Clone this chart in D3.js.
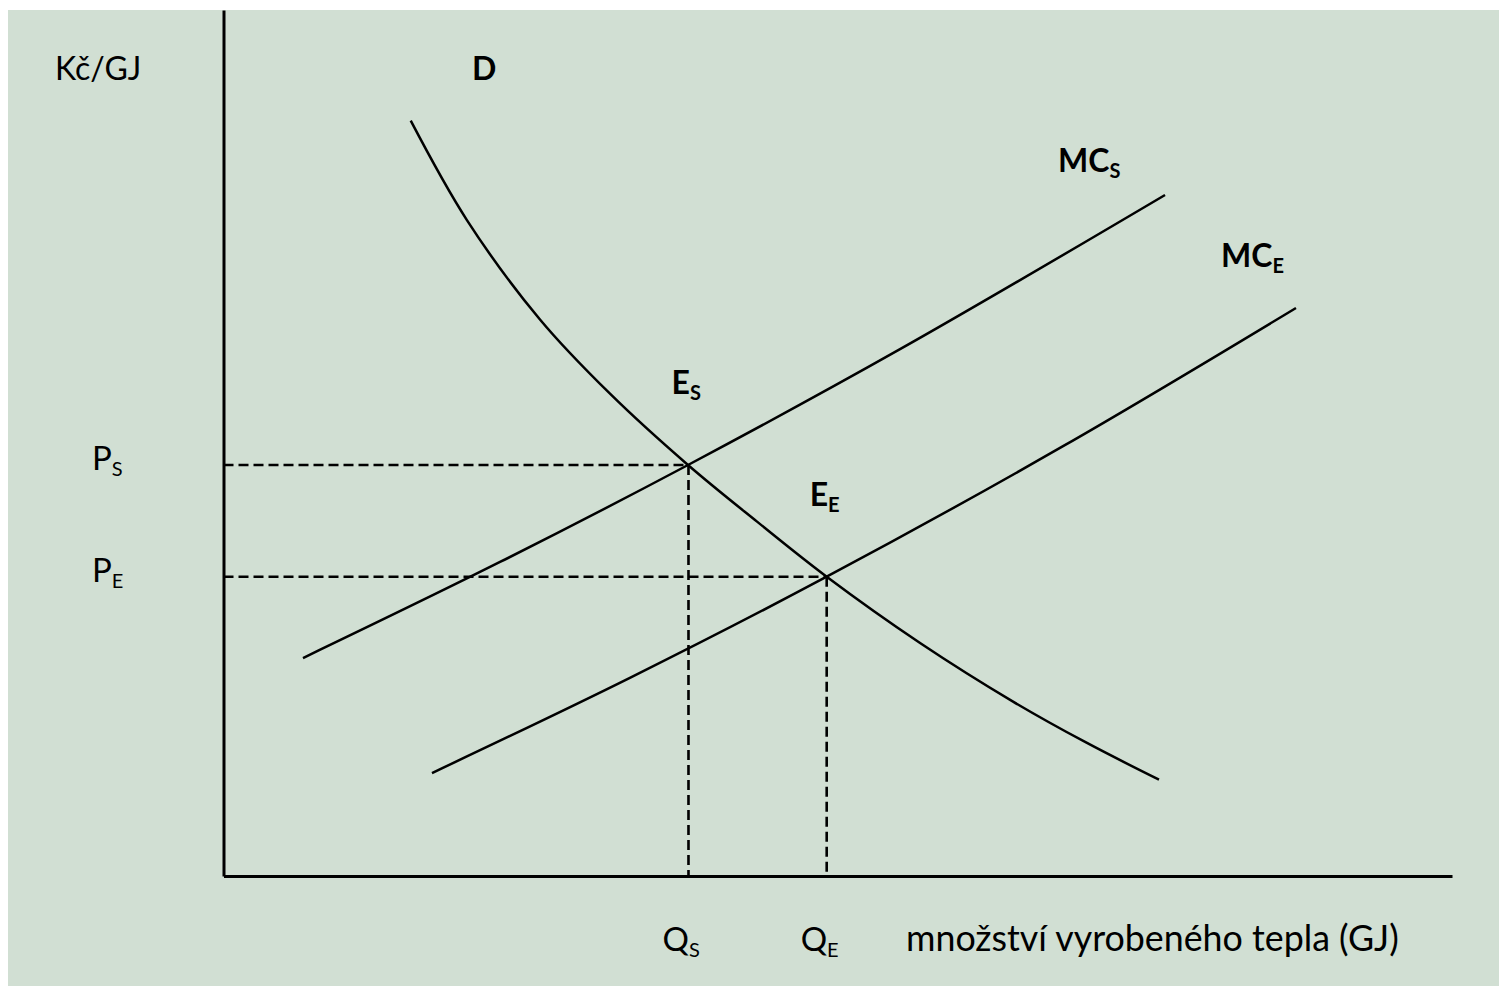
<!DOCTYPE html>
<html>
<head>
<meta charset="utf-8">
<script src="https://cdn.jsdelivr.net/npm/d3@7"></script>
<style>
  html, body { margin: 0; padding: 0; background: #fff; }
  svg { display: block; }
  text { font-family: Lato, "Open Sans", sans-serif; fill: #000; }
</style>
</head>
<body>
<div id="chart"></div>
<script>
// demand curve D (quantity, price) in chart units 0-100
const demandQ = [15.24, 19.80, 25.76, 31.46, 37.81, 43.43, 49.10, 56.70, 64.27, 70.21, 76.15];
const demandP = [87.22, 75.77, 64.26, 55.69, 47.46, 40.92, 34.56, 26.91, 20.14, 15.42, 11.12];

// marginal cost MC_S
const mcSQ = [6.47, 22.51, 37.81, 55.07, 76.64];
const mcSP = [25.17, 36.26, 47.46, 60.83, 78.64];

// marginal cost MC_E
const mcEQ = [16.97, 33.08, 49.10, 68.34, 87.30];
const mcEP = [11.89, 22.88, 34.56, 49.63, 65.59];

// equilibria
const eqNames = ["S", "E"];
const eqQ = [37.85, 49.1];
const eqP = [47.46, 34.56];

const yTitle = "Kč/GJ";
const xTitle = "množství vyrobeného tepla (GJ)";

const width = 1499, height = 986;
const origin = { x: 223.5, y: 876 };

const svg = d3.select("#chart").append("svg")
    .attr("width", width)
    .attr("height", height);

// light green panel
svg.append("rect")
    .attr("x", 8).attr("y", 10)
    .attr("width", width - 8).attr("height", height - 10)
    .attr("fill", "#d1dfd3");

const x = d3.scaleLinear().domain([0, 100]).range([origin.x, 1452]);
const y = d3.scaleLinear().domain([0, 100]).range([origin.y, 10]);

// axes (no ticks, only the domain line)
svg.append("g")
    .attr("transform", `translate(0,${origin.y})`)
    .call(d3.axisBottom(x).tickValues([]).tickSizeOuter(0))
    .select(".domain").attr("stroke", "#000").attr("stroke-width", 3);

svg.append("g")
    .attr("transform", `translate(${origin.x},0)`)
    .call(d3.axisLeft(y).tickValues([]).tickSizeOuter(0))
    .select(".domain").attr("stroke", "#000").attr("stroke-width", 3);

// dashed guides to the axes
const guides = svg.append("g")
    .attr("stroke", "#000")
    .attr("stroke-width", 2.6)
    .attr("stroke-dasharray", "10,5");

eqQ.forEach((q, i) => {
    guides.append("line")
        .attr("x1", x(0)).attr("x2", x(q))
        .attr("y1", y(eqP[i])).attr("y2", y(eqP[i]));
    guides.append("line")
        .attr("x1", x(q)).attr("x2", x(q))
        .attr("y1", y(eqP[i])).attr("y2", y(0));
});

// curves
const zip = (qs, ps) => qs.map((q, i) => [q, ps[i]]);
const line = d3.line()
    .x(d => x(d[0]))
    .y(d => y(d[1]))
    .curve(d3.curveCatmullRom.alpha(0.5));

svg.append("g")
    .selectAll("path")
    .data([zip(demandQ, demandP), zip(mcSQ, mcSP), zip(mcEQ, mcEP)])
    .join("path")
    .attr("fill", "none")
    .attr("stroke", "#000")
    .attr("stroke-width", 2.5)
    .attr("d", line);

// labels with subscripts
function label(px, py, main, sub, bold, size, subSize) {
    const t = svg.append("text")
        .attr("x", px).attr("y", py)
        .attr("font-size", size)
        .attr("font-weight", bold ? 700 : 400);
    t.append("tspan").text(main);
    if (sub) {
        t.append("tspan")
            .attr("font-size", subSize)
            .attr("dy", 6)
            .text(sub);
    }
    return t;
}

label(55, 80, yTitle, null, false, 32);
label(472, 80, "D", null, true, 32);
label(1058, 172, "MC", "S", true, 32, 20);
label(1221, 267, "MC", "E", true, 32, 20);

eqQ.forEach((q, i) => {
    // point labels above and left of each equilibrium
    label(x(q) - 17, y(eqP[i]) - 71, "E", eqNames[i], true, 32, 20);
    // price on the vertical axis
    label(92, y(eqP[i]) + 5, "P", eqNames[i], false, 33, 20);
    // quantity under the horizontal axis
    label(x(q) - 26, 951, "Q", eqNames[i], false, 33, 20);
});

label(906, 951, xTitle, null, false, 35.8);
</script>
</body>
</html>
